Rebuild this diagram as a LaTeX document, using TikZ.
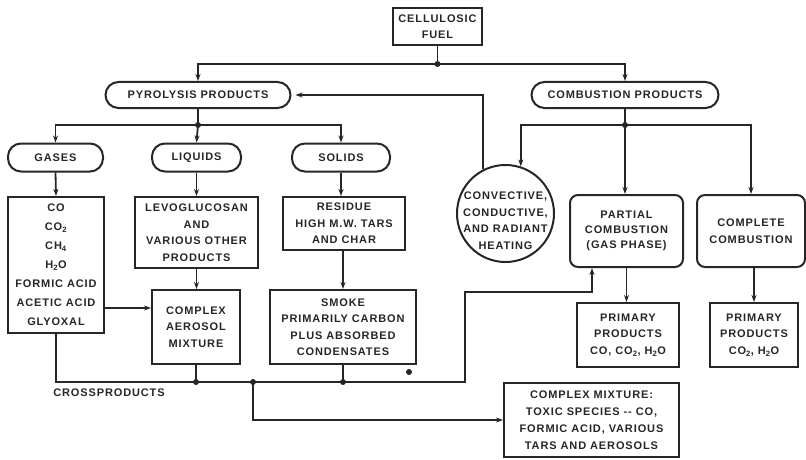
\documentclass[tikz,border=0pt]{standalone}
\usepackage{fontspec}
\setmainfont{Liberation Sans}[LetterSpace=8]
\usepackage{tikz}
\usetikzlibrary{positioning,arrows.meta,calc}
\usepackage{xcolor}
\definecolor{ink}{HTML}{262626}

\begin{document}
\begin{tikzpicture}[
    x=1pt, y=-1pt,
    font=\fontsize{11}{16.5}\selectfont\bfseries,
    block/.style={rectangle, draw=ink, line width=2pt, align=center, inner sep=2pt, text=ink},
    pill/.style={block, rounded corners=13pt, minimum height=28pt},
    roundbox/.style={block, rounded corners=8pt},
    arrow/.style={-{Stealth[length=7pt, width=5pt]}, draw=ink, line width=1.8pt},
    link/.style={draw=ink, line width=1.8pt},
    dot/.style={circle, fill=ink, inner sep=0pt, minimum size=6pt},
]
  \useasboundingbox (0,0) rectangle (806,460);

  % top level
  \node[block, minimum width=89pt, minimum height=37pt] (fuel) at (437.5,26.5) {CELLULOSIC\\FUEL};
  \node[pill, minimum width=185pt, minimum height=26pt] (pyro) at (198,95) {PYROLYSIS PRODUCTS};
  \node[pill, minimum width=187pt, minimum height=26pt] (comb) at (625,95) {COMBUSTION PRODUCTS};

  % pyrolysis branch
  \node[pill, minimum width=95pt] (gases) at (55.5,157.5) {GASES};
  \node[pill, minimum width=89pt] (liquids) at (196.5,157.5) {LIQUIDS};
  \node[pill, minimum width=98pt] (solids) at (341,157.5) {SOLIDS};
  \node[block, minimum width=96pt, minimum height=136pt, font=\fontsize{11}{19}\selectfont\bfseries] (gaslist) at (56,265)
    {CO\\CO\textsubscript{2}\\CH\textsubscript{4}\\H\textsubscript{2}O\\FORMIC ACID\\ACETIC ACID\\GLYOXAL};
  \node[block, minimum width=123pt, minimum height=71pt] (levo) at (196.5,232.5) {LEVOGLUCOSAN\\AND\\VARIOUS OTHER\\PRODUCTS};
  \node[block, minimum width=122pt, minimum height=53pt] (resid) at (344,223.5) {RESIDUE\\HIGH M.W. TARS\\AND CHAR};
  \node[block, minimum width=88pt, minimum height=74pt] (aerosol) at (196,327) {COMPLEX\\AEROSOL\\MIXTURE};
  \node[block, minimum width=146pt, minimum height=74pt] (smoke) at (343,327) {SMOKE\\PRIMARILY CARBON\\PLUS ABSORBED\\CONDENSATES};

  % combustion branch
  \node[circle, draw=ink, line width=2pt, minimum size=97pt, inner sep=0pt,
        label={[yshift=-7pt, align=center, text=ink, font=\fontsize{11}{16.5}\selectfont\bfseries]center:CONVECTIVE,\\CONDUCTIVE,\\AND RADIANT\\HEATING}] (heat) at (505.5,213.5) {};
  \node[roundbox, minimum width=113pt, minimum height=72pt, font=\fontsize{11}{15}\selectfont\bfseries] (partial) at (626.5,231) {PARTIAL\\COMBUSTION\\(GAS PHASE)};
  \node[roundbox, minimum width=108pt, minimum height=72pt] (complete) at (751,231) {COMPLETE\\COMBUSTION};
  \node[block, minimum width=102pt, minimum height=64pt] (prim1) at (628,335) {PRIMARY\\PRODUCTS\\CO, CO\textsubscript{2}, H\textsubscript{2}O};
  \node[block, minimum width=88pt, minimum height=64pt] (prim2) at (754,335) {PRIMARY\\PRODUCTS\\CO\textsubscript{2}, H\textsubscript{2}O};
  \node[block, minimum width=175pt, minimum height=74pt, font=\fontsize{11}{17}\selectfont\bfseries] (mix) at (591.5,420) {COMPLEX MIXTURE:\\TOXIC SPECIES -{}- CO,\\FORMIC ACID, VARIOUS\\TARS AND AEROSOLS};

  \node[text=ink] (crosslbl) at (109,393) {CROSSPRODUCTS};

  % junctions
  \coordinate (j0) at (437.5,64);
  \coordinate (j1) at (198,125);
  \coordinate (j2) at (625,125);
  \coordinate (cr) at (465,382);
  \coordinate (cp) at (592,292);
  \coordinate (jB) at (253,382);
  \coordinate (ga) at ([yshift=19pt]aerosol.west);

  % fuel split
  \draw[link] (fuel.south) -- (j0);
  \draw[arrow] (j0) -| (pyro.north);
  \draw[arrow] (j0) -| (comb.north);

  % pyrolysis split
  \draw[link] (pyro.south) -- (j1);
  \draw[arrow] (j1) -| (gases.north);
  \draw[arrow] (j1) -- (liquids.north);
  \draw[arrow] (j1) -| (solids.north);
  \draw[arrow] (gases.south) -- (gaslist.north);
  \draw[arrow] (liquids.south) -- (levo.north);
  \draw[arrow] (solids.south) -- (solids.south |- resid.north);
  \draw[arrow] (levo.south) -- (levo.south |- aerosol.north);
  \draw[arrow] (resid.south -| smoke.north) -- (smoke.north);
  \draw[arrow] (gaslist.east |- ga) -- (ga);

  % crossproducts
  \draw[arrow] (gaslist.south) |- (cr) |- (cp) -- (cp |- partial.south);
  \draw[link] (aerosol.south) -- (aerosol.south |- cr);
  \draw[link] (smoke.south) -- (smoke.south |- cr);
  \draw[arrow] (jB) |- (mix.west);

  % combustion split
  \draw[link] (comb.south) -- (j2);
  \draw[arrow] (j2) -| (heat.72);
  \draw[arrow] (j2) -- (j2 |- partial.north);
  \draw[arrow] (j2) -| (complete.north);
  \draw[arrow] (partial.south) -- (partial.south |- prim1.north);
  \draw[arrow] (complete.south -| prim2.north) -- (prim2.north);
  \draw[arrow, shorten >=4pt] (heat.117) |- (pyro.east);

  % dots
  \node[dot] at (j0) {};
  \node[dot] at (j1) {};
  \node[dot] at (j2) {};
  \node[dot] at (aerosol.south |- cr) {};
  \node[dot] at (jB) {};
  \node[dot] at (smoke.south |- cr) {};
  \node[dot] at (409,372) {};
\end{tikzpicture}
\end{document}
